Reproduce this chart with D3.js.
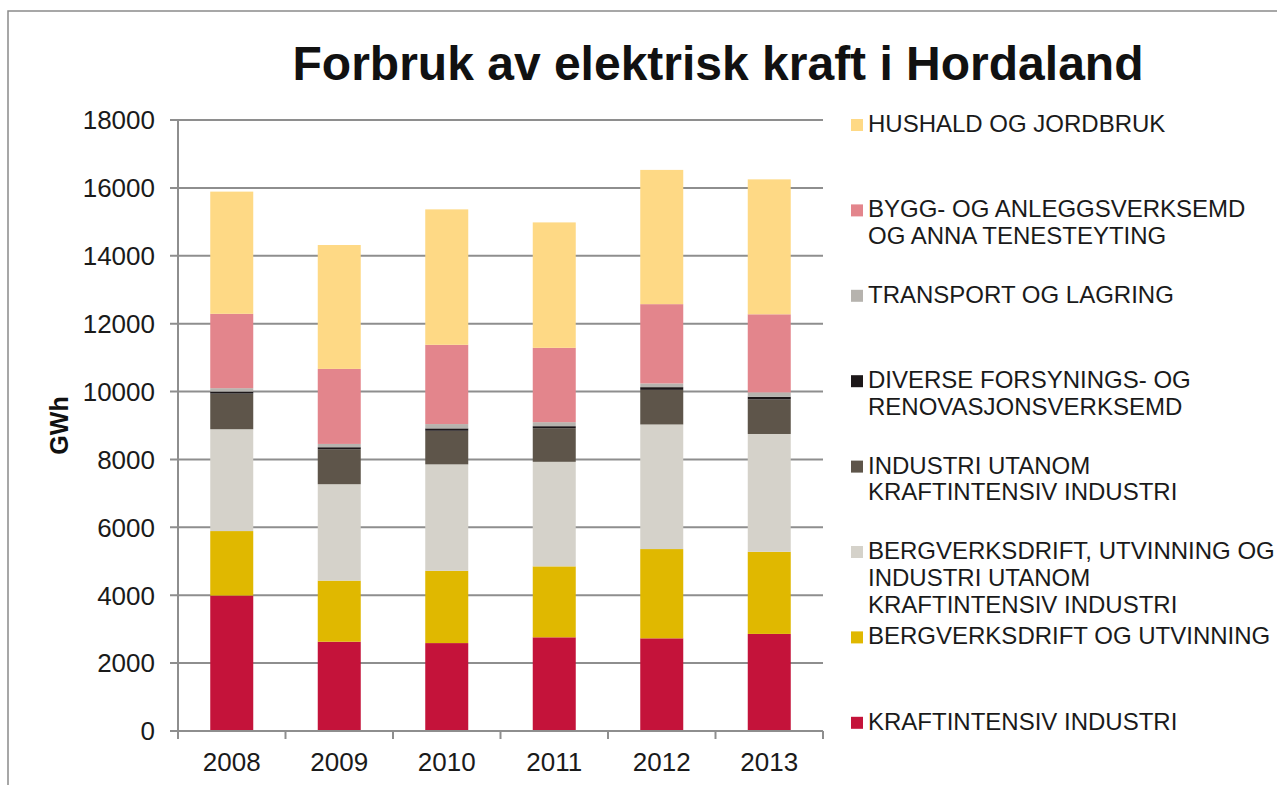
<!DOCTYPE html>
<html lang="no">
<head>
<meta charset="UTF-8">
<title>Forbruk av elektrisk kraft i Hordaland</title>
<script src="https://d3js.org/d3.v7.min.js"></script>
<style>
    body { margin: 0; background: #fff; }
    svg { display: block; font-family: "Liberation Sans", Arial, sans-serif; }
    .grid line { stroke: #8e8e8e; stroke-width: 2px; }
    .tick-label { font-size: 26px; fill: #1a1a1a; }
    .legend text { font-size: 24px; fill: #1a1a1a; }
</style>
</head>
<body>
<svg width="1277" height="785"></svg>
<script>
    // år og sektorar, nedst i stabelen fyrst
    const years = ["2008", "2009", "2010", "2011", "2012", "2013"];
    const sectors = [
        "KRAFTINTENSIV INDUSTRI",
        "BERGVERKSDRIFT OG UTVINNING",
        "BERGVERKSDRIFT, UTVINNING OG INDUSTRI UTANOM KRAFTINTENSIV INDUSTRI",
        "INDUSTRI UTANOM KRAFTINTENSIV INDUSTRI",
        "DIVERSE FORSYNINGS- OG RENOVASJONSVERKSEMD",
        "TRANSPORT OG LAGRING",
        "BYGG- OG ANLEGGSVERKSEMD OG ANNA TENESTEYTING",
        "HUSHALD OG JORDBRUK"
    ];
    const sectorColors = ["#c4133a", "#e0b800", "#d5d2ca", "#5e554a", "#1c1719", "#b6b3ae", "#e3858c", "#fed985"];

    // legendetekst, linje for linje (øvst fyrst)
    const legendLines = [
        ["HUSHALD OG JORDBRUK"],
        ["BYGG- OG ANLEGGSVERKSEMD", "OG ANNA TENESTEYTING"],
        ["TRANSPORT OG LAGRING"],
        ["DIVERSE FORSYNINGS- OG", "RENOVASJONSVERKSEMD"],
        ["INDUSTRI UTANOM", "KRAFTINTENSIV INDUSTRI"],
        ["BERGVERKSDRIFT, UTVINNING OG", "INDUSTRI UTANOM", "KRAFTINTENSIV INDUSTRI"],
        ["BERGVERKSDRIFT OG UTVINNING"],
        ["KRAFTINTENSIV INDUSTRI"]
    ];

    // GWh per sektor og år
    const kraftintensiv   = [3990, 2630, 2590, 2760, 2730, 2860];
    const bergverk        = [1900, 1800, 2130, 2090, 2630, 2420];
    const bergverkInd     = [3000, 2840, 3135, 3080, 3670, 3470];
    const industriUtanom  = [1050, 1030,  990,  990, 1020, 1020];
    const diverse         = [  60,   60,   70,   60,   80,   77];
    const transport       = [ 100,   97,  127,  118,  110,  129];
    const bygg            = [2190, 2210, 2335, 2190, 2335, 2300];
    const hushald         = [3600, 3650, 3990, 3695, 3955, 3975];

    const yTicks = [0, 2000, 4000, 6000, 8000, 10000, 12000, 14000, 16000, 18000];

    const series = [kraftintensiv, bergverk, bergverkInd, industriUtanom, diverse, transport, bygg, hushald];
    const table = years.map((yr, i) => {
        const row = { year: yr };
        sectors.forEach((s, k) => row[s] = series[k][i]);
        return row;
    });

    const svg = d3.select("svg");

    // ramme (berre venstre og øvre kant synleg)
    svg.append("rect")
        .attr("x", 8).attr("y", 11)
        .attr("width", 1400).attr("height", 900)
        .attr("fill", "none")
        .attr("stroke", "#8a8a8a")
        .attr("stroke-width", 1.5);

    svg.append("text")
        .attr("x", 718).attr("y", 80)
        .attr("text-anchor", "middle")
        .style("font-size", "48px")
        .style("font-weight", "bold")
        .attr("fill", "#111")
        .text("Forbruk av elektrisk kraft i Hordaland");

    const plotLeft = 178, plotRight = 823, plotTop = 120, plotBottom = 731;

    const x = d3.scaleBand().domain(years).range([plotLeft, plotRight]).paddingInner(0.6).paddingOuter(0.3);
    const y = d3.scaleLinear().domain([0, 18000]).range([plotBottom, plotTop]);

    // rutenett
    const grid = svg.append("g").attr("class", "grid");
    grid.selectAll("line")
        .data(yTicks.filter(d => d > 0))
        .enter().append("line")
        .attr("x1", plotLeft - 8).attr("x2", plotRight)
        .attr("y1", d => y(d)).attr("y2", d => y(d));

    const stacked = d3.stack().keys(sectors)(table);

    svg.append("g").selectAll("g")
        .data(stacked)
        .enter().append("g")
        .attr("fill", (d, i) => sectorColors[i])
        .selectAll("rect")
        .data(d => d)
        .enter().append("rect")
        .attr("x", d => x(d.data.year))
        .attr("width", x.bandwidth())
        .attr("y", d => y(d[1]))
        .attr("height", d => y(d[0]) - y(d[1]));

    // aksar
    const axisColor = "#8e8e8e";
    svg.append("line")
        .attr("x1", plotLeft).attr("x2", plotLeft)
        .attr("y1", plotTop).attr("y2", plotBottom + 1)
        .attr("stroke", axisColor).attr("stroke-width", 2);
    svg.append("line")
        .attr("x1", plotLeft - 8).attr("x2", plotRight)
        .attr("y1", plotBottom).attr("y2", plotBottom)
        .attr("stroke", axisColor).attr("stroke-width", 2);

    const step = x.step();
    svg.append("g").selectAll("line")
        .data(d3.range(years.length + 1))
        .enter().append("line")
        .attr("x1", i => plotLeft + i * step).attr("x2", i => plotLeft + i * step)
        .attr("y1", plotBottom).attr("y2", plotBottom + 8)
        .attr("stroke", axisColor).attr("stroke-width", 2);

    svg.append("g").selectAll("text")
        .data(yTicks)
        .enter().append("text")
        .attr("class", "tick-label")
        .attr("x", 155)
        .attr("y", d => y(d))
        .attr("dy", "0.36em")
        .attr("text-anchor", "end")
        .text(d => d);

    svg.append("g").selectAll("text")
        .data(years)
        .enter().append("text")
        .attr("class", "tick-label")
        .attr("x", d => x(d) + x.bandwidth() / 2)
        .attr("y", 771)
        .attr("text-anchor", "middle")
        .text(d => d);

    svg.append("text")
        .attr("transform", "translate(68," + ((plotTop + plotBottom) / 2) + ") rotate(-90)")
        .attr("text-anchor", "middle")
        .style("font-size", "25px")
        .style("font-weight", "bold")
        .attr("fill", "#111")
        .text("GWh");

    // legende
    const legend = svg.append("g").attr("class", "legend");
    const entry = legend.selectAll("g")
        .data(legendLines)
        .enter().append("g")
        .attr("transform", (d, i) => "translate(851," + (132 + i * 85.4) + ")");

    entry.append("rect")
        .attr("x", 0).attr("y", -13)
        .attr("width", 12).attr("height", 12)
        .attr("fill", (d, i) => sectorColors[sectors.length - 1 - i]);

    entry.append("text")
        .attr("x", 17)
        .selectAll("tspan")
        .data(d => d)
        .enter().append("tspan")
        .attr("x", 17)
        .attr("y", (d, j) => j * 26.8)
        .text(d => d);
</script>
</body>
</html>
